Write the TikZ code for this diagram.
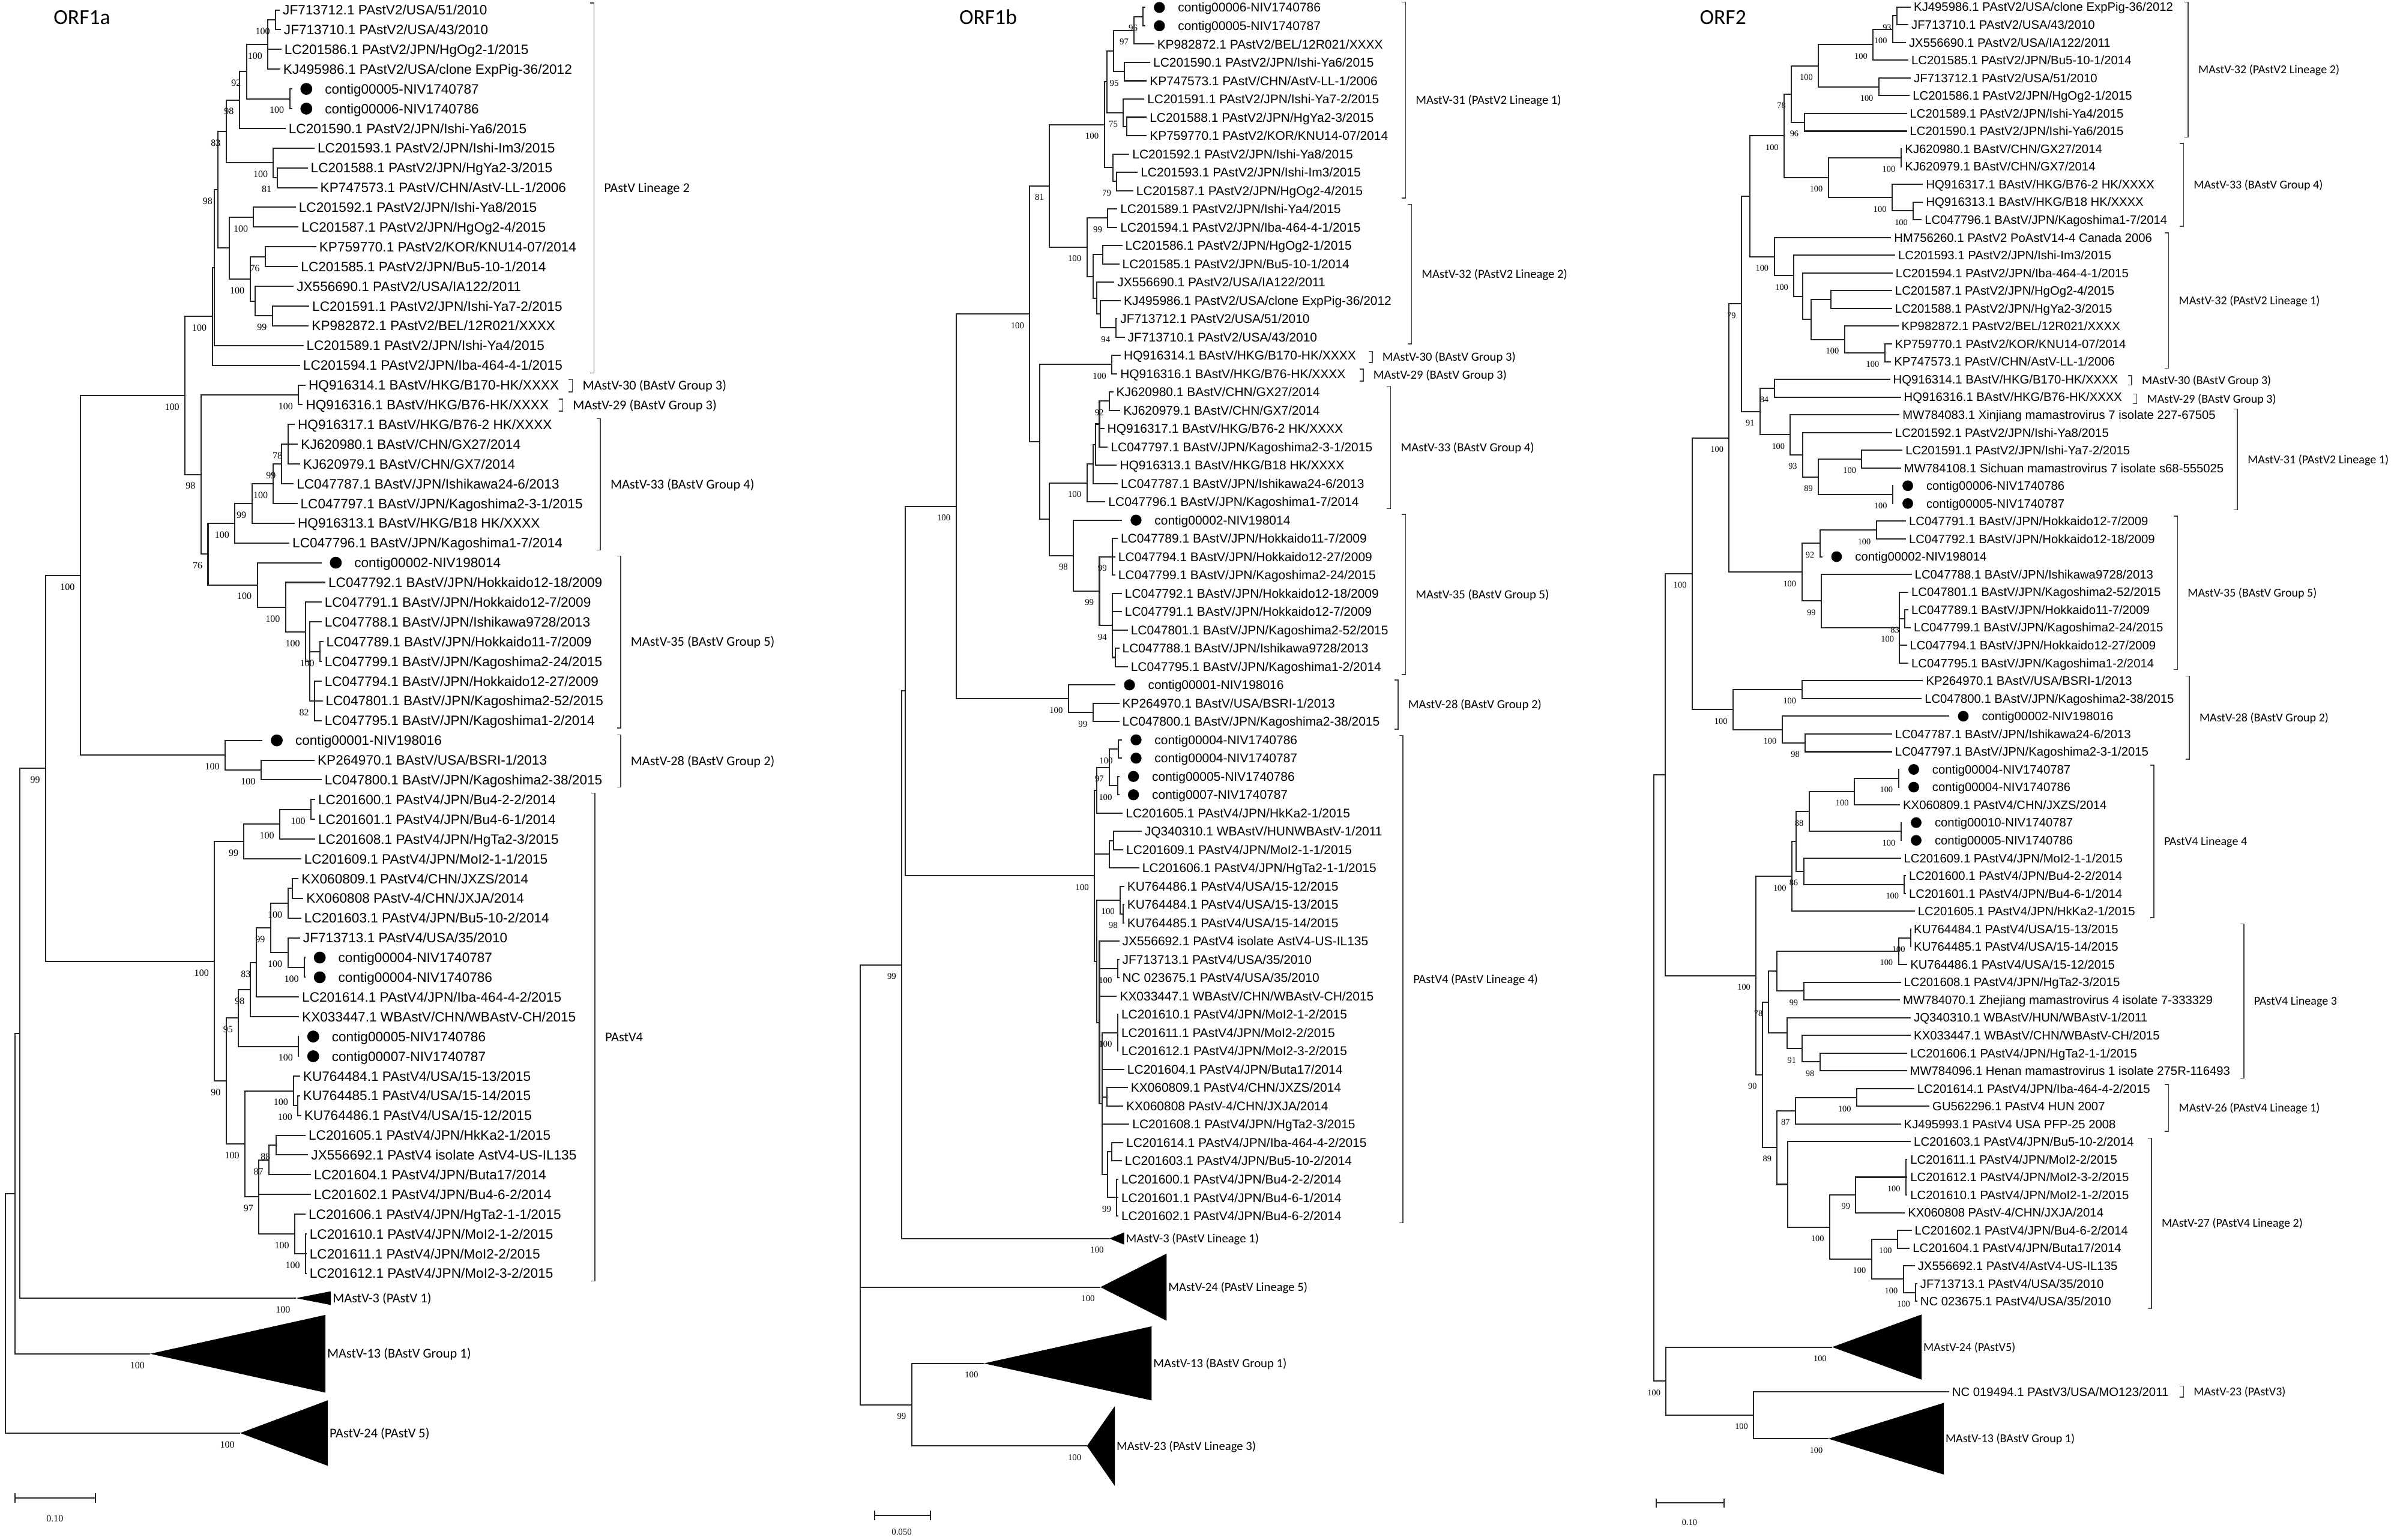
\documentclass[tikz,border=0pt]{standalone}
\usepackage{fontspec}
\setmainfont{Liberation Sans}
\newfontfamily\grpfont{Carlito}
\newfontfamily\bsfont{Liberation Serif}
\usepackage{tikz}
\usetikzlibrary{calc}

\tikzset{
  br/.style={line width=0.8pt,black!85},
  lab/.style={anchor=west,inner xsep=1.8pt,inner ysep=0pt,font=\fontsize{\tipsz}{\tipsz}\selectfont,text height=\tiph pt,text depth=0pt},
  bs/.style={anchor=east,inner sep=0pt,font=\bsfont\fontsize{\bssz}{\bssz}\selectfont,text height=\bsh pt,text depth=0pt},
  grp/.style={anchor=west,inner sep=0pt,font=\grpfont\fontsize{\grpsz}{\grpsz}\selectfont,text height=\grph pt,text depth=0pt},
  brk/.style={line width=0.6pt,black!75},
  ttl/.style={anchor=west,inner sep=0pt,font=\grpfont\fontsize{14}{16}\selectfont}
}
%% layout of one tree: first row, row step, text scale
\newcommand\panel[3]{\def\ys{#1}\def\yd{#2}%
  \pgfmathsetmacro\tipsz{8.9*#3}\pgfmathsetmacro\tiph{6.4*#3}%
  \pgfmathsetmacro\bssz{6.3*#3}\pgfmathsetmacro\bsh{4.2*#3}%
  \pgfmathsetmacro\grpsz{8.8*#3}\pgfmathsetmacro\grph{5.7*#3}%
  \pgfmathsetmacro\dotr{3.9*#3}}
%% tip: name, branch end x, row, text
\newcommand\tip[4]{\coordinate (#1) at (#2,{\ys+(#3-1)*\yd});
  \node[lab] (#1l) at (#1) {#4};}
%% tip with a dot (our contigs)
\newcommand\ctip[4]{\coordinate (#1) at (#2,{\ys+(#3-1)*\yd});
  \fill ([xshift=9.3pt]#1) circle (\dotr pt);
  \node[lab] (#1l) at ([xshift=19.5pt]#1) {#4};}
%% inner node: [middle children] name, x, first child, last child, bootstrap
\newcommand\clade[6][]{%
  \path let \p1=(#4),\p2=(#5) in coordinate (#2) at (#3pt,{(\y1+\y2)/2});
  \draw[br] (#4) -| (#2) |- (#5);
  \if\relax\detokenize{#1}\relax\else\foreach \ch in {#1}{\draw[br] (#2) |- (\ch);}\fi
  \if\relax\detokenize{#6}\relax\else\node[bs] (#2b) at ([xshift=-3.5pt,yshift=-7.5pt]#2) {#6};\fi}
%% collapsed clade: name, apex x, apex y, right x, half height, text, bootstrap
\newcommand\coll[7]{\coordinate (#1) at (#2,#3);
  \fill (#1) -- (#4,{#3-#5}) -- (#4,{#3+#5}) -- cycle;
  \node[grp] (#1l) at ({#4+1},#3) {#6};
  \node[bs] (#1b) at ([xshift=-3.5pt,yshift=-7.5pt]#1) {#7};}
%% group bracket: name, x, top, bottom, text
\newcommand\brak[5]{\draw[brk] ({#2-2.5},#3) -- (#2,#3) -- (#2,#4) -- ({#2-2.5},#4);
  \node[grp] (#1) at ({#2+6.5},{(#3+#4)/2}) {#5};}

\begin{document}
\begin{tikzpicture}[x=1pt,y=-1pt]
\useasboundingbox (0,0) rectangle (1568,1010);

%%%%%%%%%%%%%%%%%%%% ORF1a
\node[ttl] (ta) at (35,11.4) {ORF1a};
\panel{6.5}{12.95}{1}
\tip{a1}{183.5}{1}{JF713712.1 PAstV2/USA/51/2010}
\tip{a2}{184.2}{2}{JF713710.1 PAstV2/USA/43/2010}
\tip{a3}{184.5}{3}{LC201586.1 PAstV2/JPN/HgOg2-1/2015}
\tip{a4}{183.8}{4}{KJ495986.1 PAstV2/USA/clone ExpPig-36/2012}
\ctip{a5}{191.6}{5}{contig00005-NIV1740787}
\ctip{a6}{191.6}{6}{contig00006-NIV1740786}
\tip{a7}{187.3}{7}{LC201590.1 PAstV2/JPN/Ishi-Ya6/2015}
\tip{a8}{206.3}{8}{LC201593.1 PAstV2/JPN/Ishi-Im3/2015}
\tip{a9}{201.8}{9}{LC201588.1 PAstV2/JPN/HgYa2-3/2015}
\tip{a10}{208.1}{10}{KP747573.1 PAstV/CHN/AstV-LL-1/2006}
\tip{a11}{194}{11}{LC201592.1 PAstV2/JPN/Ishi-Ya8/2015}
\tip{a12}{195.8}{12}{LC201587.1 PAstV2/JPN/HgOg2-4/2015}
\tip{a13}{207.4}{13}{KP759770.1 PAstV2/KOR/KNU14-07/2014}
\tip{a14}{195.4}{14}{LC201585.1 PAstV2/JPN/Bu5-10-1/2014}
\tip{a15}{192.6}{15}{JX556690.1 PAstV2/USA/IA122/2011}
\tip{a16}{202.8}{16}{LC201591.1 PAstV2/JPN/Ishi-Ya7-2/2015}
\tip{a17}{202.5}{17}{KP982872.1 PAstV2/BEL/12R021/XXXX}
\tip{a18}{199}{18}{LC201589.1 PAstV2/JPN/Ishi-Ya4/2015}
\tip{a19}{196.8}{19}{LC201594.1 PAstV2/JPN/Iba-464-4-1/2015}
\tip{a20}{200.4}{20}{HQ916314.1 BAstV/HKG/B170-HK/XXXX}
\tip{a21}{198.6}{21}{HQ916316.1 BAstV/HKG/B76-HK/XXXX}
\tip{a22}{193.3}{22}{HQ916317.1 BAstV/HKG/B76-2 HK/XXXX}
\tip{a23}{195.4}{23}{KJ620980.1 BAstV/CHN/GX27/2014}
\tip{a24}{196.8}{24}{KJ620979.1 BAstV/CHN/GX7/2014}
\tip{a25}{192.6}{25}{LC047787.1 BAstV/JPN/Ishikawa24-6/2013}
\tip{a26}{195.1}{26}{LC047797.1 BAstV/JPN/Kagoshima2-3-1/2015}
\tip{a27}{193.3}{27}{HQ916313.1 BAstV/HKG/B18 HK/XXXX}
\tip{a28}{189.8}{28}{LC047796.1 BAstV/JPN/Kagoshima1-7/2014}
\ctip{a29}{210.9}{29}{contig00002-NIV198014}
\tip{a30}{213.4}{30}{LC047792.1 BAstV/JPN/Hokkaido12-18/2009}
\tip{a31}{210.9}{31}{LC047791.1 BAstV/JPN/Hokkaido12-7/2009}
\tip{a32}{210.9}{32}{LC047788.1 BAstV/JPN/Ishikawa9728/2013}
\tip{a33}{212}{33}{LC047789.1 BAstV/JPN/Hokkaido11-7/2009}
\tip{a34}{210.9}{34}{LC047799.1 BAstV/JPN/Kagoshima2-24/2015}
\tip{a35}{210.9}{35}{LC047794.1 BAstV/JPN/Hokkaido12-27/2009}
\tip{a36}{211.6}{36}{LC047801.1 BAstV/JPN/Kagoshima2-52/2015}
\tip{a37}{210.9}{37}{LC047795.1 BAstV/JPN/Kagoshima1-2/2014}
\ctip{a38}{172.2}{38}{contig00001-NIV198016}
\tip{a39}{206.3}{39}{KP264970.1 BAstV/USA/BSRI-1/2013}
\tip{a40}{210.9}{40}{LC047800.1 BAstV/JPN/Kagoshima2-38/2015}
\tip{a41}{206.7}{41}{LC201600.1 PAstV4/JPN/Bu4-2-2/2014}
\tip{a42}{206.7}{42}{LC201601.1 PAstV4/JPN/Bu4-6-1/2014}
\tip{a43}{206.7}{43}{LC201608.1 PAstV4/JPN/HgTa2-3/2015}
\tip{a44}{197.5}{44}{LC201609.1 PAstV4/JPN/MoI2-1-1/2015}
\tip{a45}{195.8}{45}{KX060809.1 PAstV4/CHN/JXZS/2014}
\tip{a46}{198.9}{46}{KX060808 PAstV-4/CHN/JXJA/2014}
\tip{a47}{197.5}{47}{LC201603.1 PAstV4/JPN/Bu5-10-2/2014}
\tip{a48}{196.8}{48}{JF713713.1 PAstV4/USA/35/2010}
\ctip{a49}{200.4}{49}{contig00004-NIV1740787}
\ctip{a50}{200.4}{50}{contig00004-NIV1740786}
\tip{a51}{196.1}{51}{LC201614.1 PAstV4/JPN/Iba-464-4-2/2015}
\tip{a52}{196.1}{52}{KX033447.1 WBAstV/CHN/WBAstV-CH/2015}
\ctip{a53}{196.1}{53}{contig00005-NIV1740786}
\ctip{a54}{196.1}{54}{contig00007-NIV1740787}
\tip{a55}{196.8}{55}{KU764484.1 PAstV4/USA/15-13/2015}
\tip{a56}{196.8}{56}{KU764485.1 PAstV4/USA/15-14/2015}
\tip{a57}{197.5}{57}{KU764486.1 PAstV4/USA/15-12/2015}
\tip{a58}{200.4}{58}{LC201605.1 PAstV4/JPN/HkKa2-1/2015}
\tip{a59}{202.1}{59}{JX556692.1 PAstV4 isolate AstV4-US-IL135}
\tip{a60}{203.9}{60}{LC201604.1 PAstV4/JPN/Buta17/2014}
\tip{a61}{203.9}{61}{LC201602.1 PAstV4/JPN/Bu4-6-2/2014}
\tip{a62}{200.4}{62}{LC201606.1 PAstV4/JPN/HgTa2-1-1/2015}
\tip{a63}{201.1}{63}{LC201610.1 PAstV4/JPN/MoI2-1-2/2015}
\tip{a64}{201.1}{64}{LC201611.1 PAstV4/JPN/MoI2-2/2015}
\tip{a65}{201.1}{65}{LC201612.1 PAstV4/JPN/MoI2-3-2/2015}
%% PAstV lineage 2
\clade{an1}{180.7}{a1}{a2}{100}
\clade[a3]{an2}{175.7}{an1}{a4}{100}
\clade{an3}{190}{a5}{a6}{100}
\clade{an4}{161.7}{an2}{an3}{92}
\clade{an5}{157}{an4}{a7}{98}
\clade{an6a}{181.7}{a9}{a10}{81}
\clade{an6}{179.3}{a8}{an6a}{100}
\clade{an7}{148.3}{an5}{an6}{83}
\clade{an8}{166.3}{a11}{a12}{100}
\clade{an9}{174}{a13}{a14}{76}
\clade{an10}{178.6}{a16}{a17}{99}
\clade{an11}{167.3}{a15}{an10}{}
\clade{an12}{164}{an9}{an11}{100}
\clade{an13}{150.4}{an8}{an12}{}
\clade{an14}{143}{an7}{an13}{98}
\clade{an15}{140.6}{an14}{a18}{}
\clade{an16}{139.2}{an15}{a19}{100}
%% BAstV groups
\clade{an18}{195.8}{a20}{a21}{100}
\clade[a23]{ak1}{188.8}{a22}{a24}{78}
\clade{ak2}{184.5}{ak1}{a25}{99}
\clade{ak3}{179.3}{ak2}{a26}{100}
\clade{ak4}{165.2}{ak3}{a27}{99}
\clade{ak5}{154}{ak4}{a28}{100}
\clade{aj1}{209.8}{a33}{a34}{100}
\clade[a36]{aj2}{206.3}{a35}{a37}{82}
\clade[aj1]{aj3}{203.2}{a32}{aj2}{}
\clade{aj4}{200.4}{a31}{aj3}{100}
\clade{aj5}{187.3}{a30}{aj4}{100}
\clade{aj6}{168.7}{a29}{aj5}{100}
\clade{an20}{136.4}{ak5}{aj6}{76}
\clade{an19}{131.8}{an18}{an20}{98}
\clade{an17}{121.3}{an16}{an19}{100}
\clade{an22}{171.2}{a39}{a40}{100}
\clade{an23}{147.6}{a38}{an22}{100}
\clade{an21}{52.7}{an17}{an23}{100}
%% PAstV4
\clade{an28}{203.9}{a41}{a42}{100}
\clade{an27}{183.5}{an28}{a43}{100}
\clade{an26}{160}{an27}{a44}{99}
\clade{an35a}{191.6}{a45}{a46}{}
\clade{an35}{188.8}{an35a}{a47}{100}
\clade{an37}{199.6}{a49}{a50}{100}
\clade{an36}{188.8}{a48}{an37}{100}
\clade{an34}{177.5}{an35}{an36}{99}
\clade{an33}{168}{an34}{a51}{83}
\clade{an31}{164.1}{an33}{a52}{98}
\clade{an32}{195.8}{a53}{a54}{100}
\clade{an30}{156.4}{an31}{an32}{95}
\clade{an39a}{195.4}{a56}{a57}{100}
\clade{an39}{192.6}{a55}{an39a}{100}
\clade{an41a}{181}{a58}{a59}{88}
\clade{an41}{176.4}{an41a}{a60}{87}
\clade[a64]{an45}{200.4}{a63}{a65}{100}
\clade{an44}{193.3}{a62}{an45}{100}
\clade[a61]{an42}{169.8}{an41}{an44}{97}
\clade{an38}{160.6}{an39}{an42}{100}
\clade{an29}{148.3}{an30}{an38}{90}
\clade{an25}{140.6}{an26}{an29}{100}
\clade{an24}{29.9}{an21}{an25}{99}
\coll{ac3}{194}{851.5}{217}{4.5}{MAstV-3 (PAstV 1)}{100}
\coll{ac13}{98.5}{888}{213.4}{25.5}{MAstV-13 (BAstV Group 1)}{100}
\coll{ac24}{157.5}{940}{215}{21.5}{PAstV-24 (PAstV 5)}{100}
\clade{aY}{13}{an24}{ac3}{}
\clade{aX}{9.8}{aY}{ac13}{}
\clade{aR}{3.5}{aX}{ac24}{}
%% brackets
\brak{ag1}{389.5}{2}{244.6}{PAstV Lineage 2}
\brak{ag2}{375.4}{249}{257}{MAstV-30 (BAstV Group 3)}
\brak{ag3}{369}{261.8}{269.6}{MAstV-29 (BAstV Group 3)}
\brak{ag4}{393.7}{274.5}{360.7}{MAstV-33 (BAstV Group 4)}
\brak{ag5}{407}{364.7}{477.5}{MAstV-35 (BAstV Group 5)}
\brak{ag6}{407}{482}{516.2}{MAstV-28 (BAstV Group 2)}
\brak{ag7}{390.2}{520.2}{840.3}{PAstV4}
%% scale
\coordinate (as1) at (10,982.6);
\coordinate (as2) at (62.6,982.6);
\draw[br] ([yshift=3pt]as1) -- ([yshift=-3pt]as1) (as1) -- (as2) ([yshift=3pt]as2) -- ([yshift=-3pt]as2);
\node[bs,anchor=center] (asl) at (36,996) {0.10};

%%%%%%%%%%%%%%%%%%%% ORF1b
\node[ttl] (tb) at (628.9,11.1) {ORF1b};
\panel{4.9}{12.01}{0.927}
\ctip{b1}{751}{1}{contig00006-NIV1740786}
\ctip{b2}{751}{2}{contig00005-NIV1740787}
\tip{b3}{756.9}{3}{KP982872.1 PAstV2/BEL/12R021/XXXX}
\tip{b4}{754.3}{4}{LC201590.1 PAstV2/JPN/Ishi-Ya6/2015}
\tip{b5}{752}{5}{KP747573.1 PAstV/CHN/AstV-LL-1/2006}
\tip{b6}{750.4}{6}{LC201591.1 PAstV2/JPN/Ishi-Ya7-2/2015}
\tip{b7}{752}{7}{LC201588.1 PAstV2/JPN/HgYa2-3/2015}
\tip{b8}{752}{8}{KP759770.1 PAstV2/KOR/KNU14-07/2014}
\tip{b9}{740.6}{9}{LC201592.1 PAstV2/JPN/Ishi-Ya8/2015}
\tip{b10}{746.1}{10}{LC201593.1 PAstV2/JPN/Ishi-Im3/2015}
\tip{b11}{743.2}{11}{LC201587.1 PAstV2/JPN/HgOg2-4/2015}
\tip{b12}{732.7}{12}{LC201589.1 PAstV2/JPN/Ishi-Ya4/2015}
\tip{b13}{732.7}{13}{LC201594.1 PAstV2/JPN/Iba-464-4-1/2015}
\tip{b14}{736}{14}{LC201586.1 PAstV2/JPN/HgOg2-1/2015}
\tip{b15}{734}{15}{LC201585.1 PAstV2/JPN/Bu5-10-1/2014}
\tip{b16}{730.8}{16}{JX556690.1 PAstV2/USA/IA122/2011}
\tip{b17}{735}{17}{KJ495986.1 PAstV2/USA/clone ExpPig-36/2012}
\tip{b18}{732.7}{18}{JF713712.1 PAstV2/USA/51/2010}
\tip{b19}{737.6}{19}{JF713710.1 PAstV2/USA/43/2010}
\tip{b20}{735}{20}{HQ916314.1 BAstV/HKG/B170-HK/XXXX}
\tip{b21}{732.7}{21}{HQ916316.1 BAstV/HKG/B76-HK/XXXX}
\tip{b22}{730.1}{22}{KJ620980.1 BAstV/CHN/GX27/2014}
\tip{b23}{734.7}{23}{KJ620979.1 BAstV/CHN/GX7/2014}
\tip{b24}{724.2}{24}{HQ916317.1 BAstV/HKG/B76-2 HK/XXXX}
\tip{b25}{726.5}{25}{LC047797.1 BAstV/JPN/Kagoshima2-3-1/2015}
\tip{b26}{732.4}{26}{HQ916313.1 BAstV/HKG/B18 HK/XXXX}
\tip{b27}{733}{27}{LC047787.1 BAstV/JPN/Ishikawa24-6/2013}
\tip{b28}{724.9}{28}{LC047796.1 BAstV/JPN/Kagoshima1-7/2014}
\ctip{b29}{735.7}{29}{contig00002-NIV198014}
\tip{b30}{733}{30}{LC047789.1 BAstV/JPN/Hokkaido11-7/2009}
\tip{b31}{731.4}{31}{LC047794.1 BAstV/JPN/Hokkaido12-27/2009}
\tip{b32}{731.4}{32}{LC047799.1 BAstV/JPN/Kagoshima2-24/2015}
\tip{b33}{735.7}{33}{LC047792.1 BAstV/JPN/Hokkaido12-18/2009}
\tip{b34}{735.7}{34}{LC047791.1 BAstV/JPN/Hokkaido12-7/2009}
\tip{b35}{739.6}{35}{LC047801.1 BAstV/JPN/Kagoshima2-52/2015}
\tip{b36}{734}{36}{LC047788.1 BAstV/JPN/Ishikawa9728/2013}
\tip{b37}{739.6}{37}{LC047795.1 BAstV/JPN/Kagoshima1-2/2014}
\ctip{b38}{731.4}{38}{contig00001-NIV198016}
\tip{b39}{734}{39}{KP264970.1 BAstV/USA/BSRI-1/2013}
\tip{b40}{734}{40}{LC047800.1 BAstV/JPN/Kagoshima2-38/2015}
\ctip{b41}{735.7}{41}{contig00004-NIV1740786}
\ctip{b42}{735.7}{42}{contig00004-NIV1740787}
\ctip{b43}{734}{43}{contig00005-NIV1740786}
\ctip{b44}{734}{44}{contig0007-NIV1740787}
\tip{b45}{736.3}{45}{LC201605.1 PAstV4/JPN/HkKa2-1/2015}
\tip{b46}{748.7}{46}{JQ340310.1 WBAstV/HUNWBAstV-1/2011}
\tip{b47}{736.6}{47}{LC201609.1 PAstV4/JPN/MoI2-1-1/2015}
\tip{b48}{747.1}{48}{LC201606.1 PAstV4/JPN/HgTa2-1-1/2015}
\tip{b49}{737.3}{49}{KU764486.1 PAstV4/USA/15-12/2015}
\tip{b50}{737.3}{50}{KU764484.1 PAstV4/USA/15-13/2015}
\tip{b51}{737.3}{51}{KU764485.1 PAstV4/USA/15-14/2015}
\tip{b52}{734}{52}{JX556692.1 PAstV4 isolate AstV4-US-IL135}
\tip{b53}{734}{53}{JF713713.1 PAstV4/USA/35/2010}
\tip{b54}{734}{54}{NC 023675.1 PAstV4/USA/35/2010}
\tip{b55}{732.4}{55}{KX033447.1 WBAstV/CHN/WBAstV-CH/2015}
\tip{b56}{733.4}{56}{LC201610.1 PAstV4/JPN/MoI2-1-2/2015}
\tip{b57}{733.4}{57}{LC201611.1 PAstV4/JPN/MoI2-2/2015}
\tip{b58}{733.4}{58}{LC201612.1 PAstV4/JPN/MoI2-3-2/2015}
\tip{b59}{737.3}{59}{LC201604.1 PAstV4/JPN/Buta17/2014}
\tip{b60}{739.6}{60}{KX060809.1 PAstV4/CHN/JXZS/2014}
\tip{b61}{736.6}{61}{KX060808 PAstV-4/CHN/JXJA/2014}
\tip{b62}{740.6}{62}{LC201608.1 PAstV4/JPN/HgTa2-3/2015}
\tip{b63}{736.6}{63}{LC201614.1 PAstV4/JPN/Iba-464-4-2/2015}
\tip{b64}{735.7}{64}{LC201603.1 PAstV4/JPN/Bu5-10-2/2014}
\tip{b65}{733.4}{65}{LC201600.1 PAstV4/JPN/Bu4-2-2/2014}
\tip{b66}{733.4}{66}{LC201601.1 PAstV4/JPN/Bu4-6-1/2014}
\tip{b67}{733.4}{67}{LC201602.1 PAstV4/JPN/Bu4-6-2/2014}
%% PAstV2
\clade{bn1}{749.7}{b1}{b2}{96}
\clade{bn2}{743.8}{bn1}{b3}{97}
\clade{bn5}{737.3}{b4}{b5}{95}
\clade{bn3}{730.1}{bn2}{bn5}{}
\clade{bn7}{739}{b7}{b8}{}
\clade{bn6}{736.7}{b6}{bn7}{75}
\clade{bn8}{725.9}{bn3}{bn6}{}
\clade{bn10}{732.4}{b10}{b11}{79}
\clade{bn9}{729.8}{b9}{bn10}{}
\clade{bn11}{724.2}{bn8}{bn9}{100}
\clade{bn12}{726.5}{b12}{b13}{99}
\clade{bn13}{723.3}{b14}{b15}{}
\clade{bn14}{731.7}{b18}{b19}{94}
\clade{bn15a}{721.6}{b17}{bn14}{}
\clade{bn15}{719.3}{b16}{bn15a}{}
\clade{bn16}{717}{bn13}{bn15}{}
\clade{bn17}{712.8}{bn12}{bn16}{100}
\clade{bn18}{688.3}{bn11}{bn17}{81}
%% BAstV groups
\clade{bn20}{729.1}{b20}{b21}{100}
\clade{bn22}{727.5}{b22}{b23}{92}
\clade[b24]{bn23}{721}{bn22}{b25}{}
\clade{bn24}{718.4}{bn23}{b26}{}
\clade{bn25}{716.7}{bn24}{b27}{}
\clade{bn26}{712.8}{bn25}{b28}{100}
\clade[b31]{bn27}{729.5}{b30}{b32}{99}
\clade{bn28a}{731.4}{b36}{b37}{}
\clade[b34,b35]{bn28}{729.5}{b33}{bn28a}{94}
\clade{bn29}{721}{bn27}{bn28}{99}
\clade{bn30}{704}{b29}{bn29}{98}
\clade{bn31}{688.3}{bn26}{bn30}{}
\clade{bn21}{681.8}{bn20}{bn31}{}
\clade{bn19}{675.3}{bn18}{bn21}{100}
\clade{bn32}{716.7}{b39}{b40}{99}
\clade{bn33}{700.7}{b38}{bn32}{100}
\clade{bn34}{627}{bn19}{bn33}{100}
%% PAstV4
\clade{bn39}{733.4}{b41}{b42}{100}
\clade{bn41}{733}{b43}{b44}{100}
\clade{bn40}{727.5}{bn39}{bn41}{97}
\clade{bn42}{719.3}{bn40}{b45}{}
\clade{bn43a}{730.1}{b46}{b47}{}
\clade{bn43}{727.5}{bn43a}{b48}{}
\clade{bn44a}{736.6}{b50}{b51}{98}
\clade{bn44}{734.7}{b49}{bn44a}{100}
\clade{bn49}{733}{b53}{b54}{100}
\clade[b57]{bn51}{733}{b56}{b58}{100}
\clade{bn52}{726}{b60}{b61}{}
\clade{bn54}{729.2}{b63}{b64}{}
\clade[b66]{bn55}{732.4}{b65}{b67}{99}
\clade{bn56}{726.5}{bn54}{bn55}{}
\clade[b59,bn52,b62]{bn50}{722.6}{bn51}{bn56}{}
\clade[bn49,b55]{bn48}{721}{b52}{bn50}{}
\clade{bn47}{719.3}{bn44}{bn48}{}
\clade[bn43]{bn46}{717.7}{bn42}{bn47}{100}
\clade{bn35}{593.6}{bn34}{bn46}{}
\coll{bd3}{727.5}{812.4}{737.2}{4}{MAstV-3 (PAstV Lineage 1)}{100}
\coll{bd24}{721.6}{844.3}{765}{22}{MAstV-24 (PAstV Lineage 5)}{100}
\coll{bd13}{645.2}{894.3}{755.2}{24.3}{MAstV-13 (BAstV Group 1)}{100}
\coll{bd23}{712.8}{948.5}{731.1}{26.2}{MAstV-23 (PAstV Lineage 3)}{100}
\clade{bn36}{591.4}{bn35}{bd3}{99}
\clade{bn38}{597.9}{bd13}{bd23}{99}
\clade[bd24]{bR}{564.3}{bn36}{bn38}{}
%% brackets
\brak{bg1}{921.7}{1.3}{129.9}{MAstV-31 (PAstV2 Lineage 1)}
\brak{bg2}{925.7}{134}{225.5}{MAstV-32 (PAstV2 Lineage 2)}
\brak{bg3}{899.9}{230.4}{237.7}{MAstV-30 (BAstV Group 3)}
\brak{bg4}{894}{242.2}{250}{MAstV-29 (BAstV Group 3)}
\brak{bg5}{912}{253.3}{333.7}{MAstV-33 (BAstV Group 4)}
\brak{bg6}{921.7}{337.3}{442.4}{MAstV-35 (BAstV Group 5)}
\brak{bg7}{916.8}{446.1}{478.3}{MAstV-28 (BAstV Group 2)}
\brak{bg8}{920.1}{482.4}{802.1}{PAstV4 (PAstV Lineage 4)}
%% scale
\coordinate (bs1) at (573.4,994);
\coordinate (bs2) at (610,994);
\draw[br] ([yshift=3pt]bs1) -- ([yshift=-3pt]bs1) (bs1) -- (bs2) ([yshift=3pt]bs2) -- ([yshift=-3pt]bs2);
\node[bs,anchor=center] (bsl) at (591.3,1005) {0.050};

%%%%%%%%%%%%%%%%%%%% ORF2
\node[ttl] (tc) at (1114.5,11.4) {ORF2};
\panel{4.6}{11.63}{0.898}
\tip{c1}{1253.1}{1}{KJ495986.1 PAstV2/USA/clone ExpPig-36/2012}
\tip{c2}{1251.5}{2}{JF713710.1 PAstV2/USA/43/2010}
\tip{c3}{1249.9}{3}{JX556690.1 PAstV2/USA/IA122/2011}
\tip{c4}{1251.5}{4}{LC201585.1 PAstV2/JPN/Bu5-10-1/2014}
\tip{c5}{1253.1}{5}{JF713712.1 PAstV2/USA/51/2010}
\tip{c6}{1252.4}{6}{LC201586.1 PAstV2/JPN/HgOg2-1/2015}
\tip{c7}{1250.5}{7}{LC201589.1 PAstV2/JPN/Ishi-Ya4/2015}
\tip{c8}{1250.5}{8}{LC201590.1 PAstV2/JPN/Ishi-Ya6/2015}
\tip{c9}{1247.3}{9}{KJ620980.1 BAstV/CHN/GX27/2014}
\tip{c10}{1247.3}{10}{KJ620979.1 BAstV/CHN/GX7/2014}
\tip{c11}{1261.1}{11}{HQ916317.1 BAstV/HKG/B76-2 HK/XXXX}
\tip{c12}{1261.1}{12}{HQ916313.1 BAstV/HKG/B18 HK/XXXX}
\tip{c13}{1260.2}{13}{LC047796.1 BAstV/JPN/Kagoshima1-7/2014}
\tip{c14}{1240.2}{14}{HM756260.1 PAstV2 PoAstV14-4 Canada 2006}
\tip{c15}{1242.8}{15}{LC201593.1 PAstV2/JPN/Ishi-Im3/2015}
\tip{c16}{1241.2}{16}{LC201594.1 PAstV2/JPN/Iba-464-4-1/2015}
\tip{c17}{1240.8}{17}{LC201587.1 PAstV2/JPN/HgOg2-4/2015}
\tip{c18}{1240.8}{18}{LC201588.1 PAstV2/JPN/HgYa2-3/2015}
\tip{c19}{1245}{19}{KP982872.1 PAstV2/BEL/12R021/XXXX}
\tip{c20}{1240.8}{20}{KP759770.1 PAstV2/KOR/KNU14-07/2014}
\tip{c21}{1240.2}{21}{KP747573.1 PAstV/CHN/AstV-LL-1/2006}
\tip{c22}{1239.5}{22}{HQ916314.1 BAstV/HKG/B170-HK/XXXX}
\tip{c23}{1246.6}{23}{HQ916316.1 BAstV/HKG/B76-HK/XXXX}
\tip{c24}{1245.7}{24}{MW784083.1 Xinjiang mamastrovirus 7 isolate 227-67505}
\tip{c25}{1240.8}{25}{LC201592.1 PAstV2/JPN/Ishi-Ya8/2015}
\tip{c26}{1247.6}{26}{LC201591.1 PAstV2/JPN/Ishi-Ya7-2/2015}
\tip{c27}{1246.6}{27}{MW784108.1 Sichuan mamastrovirus 7 isolate s68-555025}
\ctip{c28}{1241.8}{28}{contig00006-NIV1740786}
\ctip{c29}{1241.8}{29}{contig00005-NIV1740787}
\tip{c30}{1249.9}{30}{LC047791.1 BAstV/JPN/Hokkaido12-7/2009}
\tip{c31}{1249.9}{31}{LC047792.1 BAstV/JPN/Hokkaido12-18/2009}
\ctip{c32}{1195.1}{32}{contig00002-NIV198014}
\tip{c33}{1253.7}{33}{LC047788.1 BAstV/JPN/Ishikawa9728/2013}
\tip{c34}{1251.5}{34}{LC047801.1 BAstV/JPN/Kagoshima2-52/2015}
\tip{c35}{1251.5}{35}{LC047789.1 BAstV/JPN/Hokkaido11-7/2009}
\tip{c36}{1253.1}{36}{LC047799.1 BAstV/JPN/Kagoshima2-24/2015}
\tip{c37}{1250.5}{37}{LC047794.1 BAstV/JPN/Hokkaido12-27/2009}
\tip{c38}{1251.5}{38}{LC047795.1 BAstV/JPN/Kagoshima1-2/2014}
\tip{c39}{1261.1}{39}{KP264970.1 BAstV/USA/BSRI-1/2013}
\tip{c40}{1260.2}{40}{LC047800.1 BAstV/JPN/Kagoshima2-38/2015}
\ctip{c41}{1278.2}{41}{contig00002-NIV198016}
\tip{c42}{1240.8}{42}{LC047787.1 BAstV/JPN/Ishikawa24-6/2013}
\tip{c43}{1240.8}{43}{LC047797.1 BAstV/JPN/Kagoshima2-3-1/2015}
\ctip{c44}{1245.7}{44}{contig00004-NIV1740787}
\ctip{c45}{1245.7}{45}{contig00004-NIV1740786}
\tip{c46}{1246}{46}{KX060809.1 PAstV4/CHN/JXZS/2014}
\ctip{c47}{1247.3}{47}{contig00010-NIV1740787}
\ctip{c48}{1247.3}{48}{contig00005-NIV1740786}
\tip{c49}{1246.6}{49}{LC201609.1 PAstV4/JPN/MoI2-1-1/2015}
\tip{c50}{1249.9}{50}{LC201600.1 PAstV4/JPN/Bu4-2-2/2014}
\tip{c51}{1249.9}{51}{LC201601.1 PAstV4/JPN/Bu4-6-1/2014}
\tip{c52}{1255.7}{52}{LC201605.1 PAstV4/JPN/HkKa2-1/2015}
\tip{c53}{1253.1}{53}{KU764484.1 PAstV4/USA/15-13/2015}
\tip{c54}{1253.1}{54}{KU764485.1 PAstV4/USA/15-14/2015}
\tip{c55}{1250.8}{55}{KU764486.1 PAstV4/USA/15-12/2015}
\tip{c56}{1246.6}{56}{LC201608.1 PAstV4/JPN/HgTa2-3/2015}
\tip{c57}{1246}{57}{MW784070.1 Zhejiang mamastrovirus 4 isolate 7-333329}
\tip{c58}{1253.1}{58}{JQ340310.1 WBAstV/HUN/WBAstV-1/2011}
\tip{c59}{1253.1}{59}{KX033447.1 WBAstV/CHN/WBAstV-CH/2015}
\tip{c60}{1250.8}{60}{LC201606.1 PAstV4/JPN/HgTa2-1-1/2015}
\tip{c61}{1250.5}{61}{MW784096.1 Henan mamastrovirus 1 isolate 275R-116493}
\tip{c62}{1255.3}{62}{LC201614.1 PAstV4/JPN/Iba-464-4-2/2015}
\tip{c63}{1265.3}{63}{GU562296.1 PAstV4 HUN 2007}
\tip{c64}{1246.6}{64}{KJ495993.1 PAstV4 USA PFP-25 2008}
\tip{c65}{1253.1}{65}{LC201603.1 PAstV4/JPN/Bu5-10-2/2014}
\tip{c66}{1250.8}{66}{LC201611.1 PAstV4/JPN/MoI2-2/2015}
\tip{c67}{1250.8}{67}{LC201612.1 PAstV4/JPN/MoI2-3-2/2015}
\tip{c68}{1250.8}{68}{LC201610.1 PAstV4/JPN/MoI2-1-2/2015}
\tip{c69}{1249.2}{69}{KX060808 PAstV-4/CHN/JXJA/2014}
\tip{c70}{1253.7}{70}{LC201602.1 PAstV4/JPN/Bu4-6-2/2014}
\tip{c71}{1252.4}{71}{LC201604.1 PAstV4/JPN/Buta17/2014}
\tip{c72}{1255.7}{72}{JX556692.1 PAstV4/AstV4-US-IL135}
\tip{c73}{1257.3}{73}{JF713713.1 PAstV4/USA/35/2010}
\tip{c74}{1257.3}{74}{NC 023675.1 PAstV4/USA/35/2010}
\tip{c75}{1278.2}{79.1}{NC 019494.1 PAstV3/USA/MO123/2011}
%% PAstV2 and BAstV
\clade{cm1a}{1244}{c1}{c2}{93}
\clade{cm1}{1241.2}{cm1a}{c3}{100}
\clade{cm2}{1228.3}{cm1}{c4}{100}
\clade{cm3}{1232.1}{c5}{c6}{100}
\clade{cm4}{1192.5}{cm2}{cm3}{100}
\clade{cm5}{1183.2}{c7}{c8}{96}
\clade{cm6}{1174.8}{cm4}{cm5}{78}
\clade{cm7}{1246.6}{c9}{c10}{100}
\clade{cm8}{1254.7}{c12}{c13}{100}
\clade{cm9}{1240.8}{c11}{cm8}{100}
\clade{cm10}{1199}{cm7}{cm9}{100}
\clade{cm11}{1170}{cm6}{cm10}{100}
\clade{cm12}{1200.6}{c17}{c18}{}
\clade{cm13}{1236}{c20}{c21}{100}
\clade{cm14}{1209.6}{c19}{cm13}{100}
\clade{cm15}{1187.7}{cm12}{cm14}{}
\clade{cm16}{1182.2}{c16}{cm15}{}
\clade{cm17}{1176.4}{c15}{cm16}{100}
\clade{cm18}{1163.5}{c14}{cm17}{100}
\clade{cm19}{1147.4}{cm11}{cm18}{}
\clade{cm20}{1163.5}{c22}{c23}{84}
\clade{cna}{1220.9}{c26}{c27}{100}
\clade{cnb}{1241.2}{c28}{c29}{100}
\clade{cnc}{1192.5}{cna}{cnb}{89}
\clade{cnd}{1182.2}{c25}{cnc}{93}
\clade{cne}{1174.1}{c24}{cnd}{100}
\clade{cm21}{1154.2}{cm20}{cne}{91}
\clade{cm22}{1142}{cm19}{cm21}{79}
\clade{cg1}{1230.5}{c30}{c31}{100}
\clade{cg2}{1193.5}{cg1}{c32}{92}
\clade{cg3}{1249.2}{c35}{c36}{83}
\clade[cg3,c37]{cg4}{1245.7}{c34}{c38}{100}
\clade{cg5}{1194.4}{c33}{cg4}{99}
\clade{cg6}{1181.6}{cg2}{cg5}{100}
\clade{cm23}{1133.9}{cm22}{cg6}{100}
\clade{ch1}{1181.6}{c39}{c40}{100}
\clade{ch2}{1183.8}{c42}{c43}{98}
\clade{ch3}{1168.7}{c41}{ch2}{100}
\clade{ch4}{1136.5}{ch1}{ch3}{100}
\clade{cm24}{1109.7}{cm23}{ch4}{100}
%% PAstV4
\clade{cp1}{1245}{c44}{c45}{100}
\clade{cp2}{1216}{cp1}{c46}{100}
\clade{cp3}{1246.6}{c47}{c48}{100}
\clade{cp4}{1186.4}{cp2}{cp3}{88}
\clade{cp5}{1248.9}{c50}{c51}{100}
\clade{cp6}{1182.8}{c49}{cp5}{86}
\clade{cp7}{1178}{cp4}{cp6}{}
\clade{cp8}{1175.1}{cp7}{c52}{100}
\clade{cp9}{1253}{c53}{c54}{100}
\clade{cp10}{1245}{cp9}{c55}{100}
\clade{cp11}{1182.8}{c56}{c57}{99}
\clade{cp12}{1165.4}{cp10}{cp11}{}
\clade{cp13}{1193.5}{c60}{c61}{98}
\clade{cp14}{1181.6}{c59}{cp13}{91}
\clade{cp15}{1171.8}{c58}{cp14}{}
\clade{cp16}{1159.6}{cp12}{cp15}{78}
\clade{cp17}{1217.6}{c62}{c63}{100}
\clade{cp18}{1177.4}{cp17}{c64}{87}
\clade[c67]{cq1}{1249.9}{c66}{c68}{100}
\clade{cq2}{1217}{cq1}{c69}{99}
\clade{cq3}{1244.4}{c70}{c71}{100}
\clade{cq4}{1256.3}{c73}{c74}{100}
\clade{cq5}{1248.2}{c72}{cq4}{100}
\clade{cq6}{1227.3}{cq3}{cq5}{100}
\clade{cq7}{1199.9}{cq2}{cq6}{100}
\clade{cq8}{1172.5}{c65}{cq7}{}
\clade{cq9}{1165.4}{cp18}{cq8}{89}
\clade{cq10}{1155.8}{cp16}{cq9}{90}
\clade{cp19}{1151.6}{cp8}{cq10}{100}
\clade{cm25}{1092}{cm24}{cp19}{}
\coll{ce24}{1201.5}{883.6}{1260.2}{21.4}{MAstV-24 (PAstV5)}{100}
\coll{ce13}{1199}{943.7}{1274.7}{23.5}{MAstV-13 (BAstV Group 1)}{100}
\clade{cna3}{1150}{c75}{ce13}{100}
\clade{cnb3}{1092.6}{ce24}{cna3}{100}
\clade{cR}{1084.6}{cm25}{cnb3}{}
%% brackets
\brak{cg1b}{1435}{1.3}{89.9}{MAstV-32 (PAstV2 Lineage 2)}
\brak{cg2b}{1431.9}{94}{148.4}{MAstV-33 (BAstV Group 4)}
\brak{cg3b}{1422.2}{152.8}{241.5}{MAstV-32 (PAstV2 Lineage 1)}
\brak{cg4b}{1398}{246.4}{252.5}{MAstV-30 (BAstV Group 3)}
\brak{cg5b}{1401.3}{258.5}{264.7}{MAstV-29 (BAstV Group 3)}
\brak{cg6b}{1467.3}{268.3}{334.5}{MAstV-31 (PAstV2 Lineage 1)}
\brak{cg7b}{1428}{338.6}{439.1}{MAstV-35 (BAstV Group 5)}
\brak{cg8b}{1435.7}{443.5}{497.9}{MAstV-28 (BAstV Group 2)}
\brak{cg9b}{1412.5}{502}{602}{PAstV4 Lineage 4}
\brak{cg10b}{1471.5}{606}{707.3}{PAstV4 Lineage 3}
\brak{cg11b}{1422.2}{711.4}{742.1}{MAstV-26 (PAstV4 Lineage 1)}
\brak{cg12b}{1410.9}{746.5}{858.4}{MAstV-27 (PAstV4 Lineage 2)}
\brak{cg13b}{1431.9}{909.2}{916.5}{MAstV-23 (PAstV3)}
%% scale
\coordinate (cs1) at (1086.2,985.9);
\coordinate (cs2) at (1130.7,985.9);
\draw[br] ([yshift=3pt]cs1) -- ([yshift=-3pt]cs1) (cs1) -- (cs2) ([yshift=3pt]cs2) -- ([yshift=-3pt]cs2);
\node[bs,anchor=center] (csl) at (1108,998.7) {0.10};
\end{tikzpicture}
\end{document}
